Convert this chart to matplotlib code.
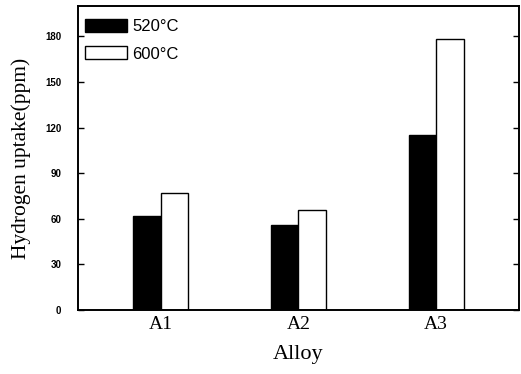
import numpy as np
import matplotlib
matplotlib.use("Agg")
import matplotlib.pyplot as plt

alloys = ["A1", "A2", "A3"]
uptake_520 = [62, 56, 115]
uptake_600 = [77, 66, 178]
y_ticks = [0, 30, 60, 90, 120, 150, 180]

fig = plt.figure(figsize=(5.21, 3.74), dpi=100)
ax = fig.add_axes([0.1497, 0.1711, 0.8463, 0.8129])

x = np.arange(len(alloys))
w = 0.2
ax.bar(x - w / 2, uptake_520, w, color="black", edgecolor="black", linewidth=1, label="520°C")
ax.bar(x + w / 2, uptake_600, w, color="white", edgecolor="black", linewidth=1, label="600°C")

ax.set_xlim(-0.6, 2.6)
ax.set_ylim(0, 200)
ax.set_yticks(y_ticks)
ax.set_xticks(x)
ax.set_xticklabels(alloys, family="Liberation Serif", fontsize=14)
ax.tick_params(axis="x", length=0, pad=4)
ax.tick_params(axis="y", direction="in", length=4, width=1, right=True, labelsize=7, pad=12)
for lbl in ax.get_yticklabels():
    lbl.set_family("Liberation Sans")
    lbl.set_fontweight("bold")

for s in ax.spines.values():
    s.set_linewidth(1.4)

ax.set_xlabel("Alloy", family="Liberation Serif", fontsize=16, labelpad=9)
ax.set_ylabel("Hydrogen uptake(ppm)", family="Liberation Serif", fontsize=15.5, labelpad=10)

ax.legend(loc="upper left", bbox_to_anchor=(0, 0.98), frameon=False,
          prop={"family": "Liberation Sans", "size": 12},
          handlelength=2.5, handleheight=0.85, handletextpad=0.35, labelspacing=0.7,
          borderaxespad=0, borderpad=0.42)

fig.savefig("out.png", dpi=100)
